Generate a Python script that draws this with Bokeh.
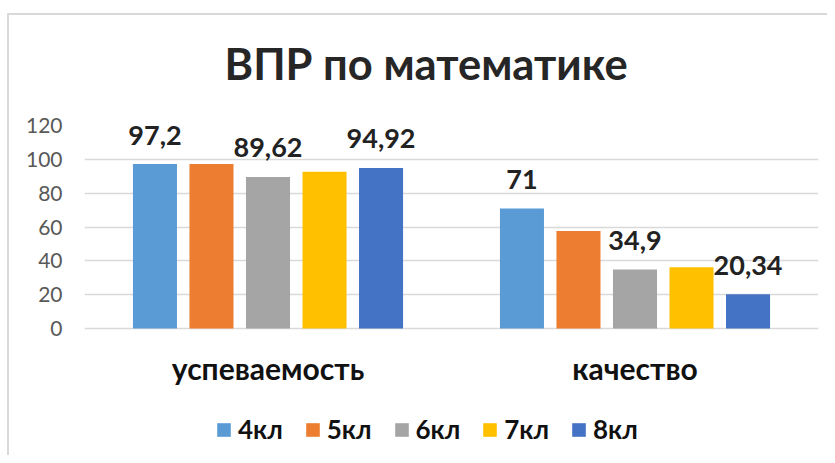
from bokeh.plotting import figure
from bokeh.models import (ColumnDataSource, FactorRange, Legend, LegendItem,
                          FixedTicker, Range1d)
from bokeh.transform import dodge
from bokeh.core.properties import value
from bokeh.embed import file_html
from bokeh.resources import INLINE

# ---- data ----
categories = ["успеваемость", "качество"]
series = ["4кл", "5кл", "6кл", "7кл", "8кл"]
v_4kl = [97.2, 71]
v_5kl = [97.2, 57.7]
v_6kl = [89.62, 34.9]
v_7kl = [92.6, 36.3]
v_8kl = [94.92, 20.34]
labelled_series = ["4кл", "6кл", "8кл"]
y_ticks = [0, 20, 40, 60, 80, 100, 120]
colors = ["#5B9BD5", "#ED7D31", "#A5A5A5", "#FFC000", "#4472C4"]

values = [v_4kl, v_5kl, v_6kl, v_7kl, v_8kl]

def fmt(v):
    return f"{v:g}".replace(".", ",")

data = {"cat": categories, "base": [0] * len(categories)}
for s, vals in zip(series, values):
    data[s] = vals
    data[s + "_lbl"] = [fmt(v) for v in vals]
source = ColumnDataSource(data)

FONT = "Lato"

p = figure(width=827, height=455, x_range=FactorRange(*categories, range_padding=0, factor_padding=0),
           y_range=Range1d(-75, 120), output_backend="svg", toolbar_location=None,
           min_border_left=84, min_border_right=9, min_border_top=125, min_border_bottom=0)
p.border_fill_alpha = 0
p.background_fill_color = "white"
# light frame lines (left and top edge of the chart area)
p.styles = {
    "background-color": "white",
    "background-image": "linear-gradient(#d9d9d9, #d9d9d9), linear-gradient(#d9d9d9, #d9d9d9)",
    "background-size": "2px 100%, 100% 2px",
    "background-position": "7px 13px, 7px 13px",
    "background-repeat": "no-repeat",
}

pitch = 0.154
bar_w = 0.12
items = []
for i, (s, c) in enumerate(zip(series, colors)):
    off = (i - 2) * pitch
    r = p.vbar(x=dodge("cat", off, range=p.x_range), top=s, width=bar_w, source=source,
               fill_color=c, line_color=None)
    items.append(LegendItem(label=s, renderers=[r]))
    if s in labelled_series:
        p.text(x=dodge("cat", off, range=p.x_range), y=s, text=s + "_lbl", source=source,
               text_align="center", text_baseline="middle", y_offset=-29,
               text_font=value(FONT), text_font_style="bold", text_font_size="27px",
               text_color="#222222")

# category labels under the groups
p.text(x="cat", y="base", text="cat", source=source, text_align="center",
       text_baseline="middle", y_offset=39, text_font=value(FONT),
       text_font_style="bold", text_font_size="30px", text_color="#111111")

# title
p.title.text = "ВПР по математике"
p.title.align = "left"
p.title.offset = 140
p.title.vertical_align = "middle"
p.title.text_font = FONT
p.title.text_font_size = "43.5px"
p.title.text_font_style = "bold"
p.title.text_color = "#262626"
p.title.standoff = 71

# axes
p.yaxis.ticker = FixedTicker(ticks=y_ticks)
p.yaxis.axis_line_color = None
p.yaxis.major_tick_line_color = None
p.yaxis.major_tick_out = 0
p.yaxis.major_tick_in = 0
p.yaxis.minor_tick_line_color = None
p.yaxis.major_label_text_font = FONT
p.yaxis.major_label_text_font_size = "21px"
p.yaxis.major_label_text_color = "#595959"
p.yaxis.major_label_standoff = 22

p.xaxis.visible = False
p.xgrid.grid_line_color = None
p.ygrid.ticker = FixedTicker(ticks=y_ticks)
p.ygrid.grid_line_color = "#d9d9d9"
p.ygrid.grid_line_width = 1.5
p.outline_line_color = None

legend = Legend(items=items, orientation="horizontal", location=(131, 10),
                label_text_font=FONT, label_text_font_size="26px", label_text_font_style="bold",
                label_text_color="#111111", glyph_width=17, glyph_height=17,
                label_standoff=6, spacing=21, border_line_color=None,
                background_fill_alpha=0, padding=4)
p.add_layout(legend, "center")

open("out.html", "w").write(file_html(p, INLINE))
